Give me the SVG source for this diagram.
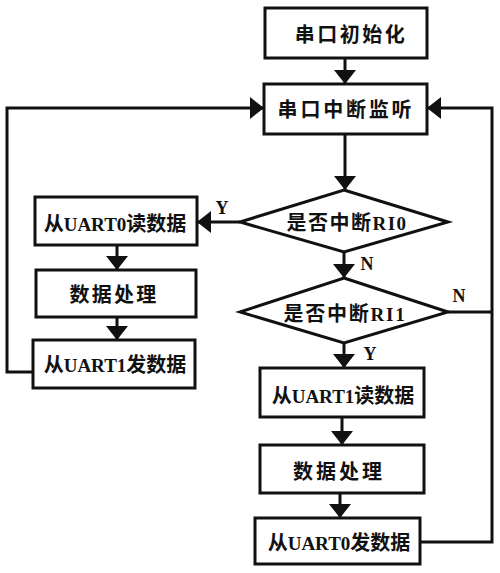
<svg xmlns="http://www.w3.org/2000/svg" width="500" height="573" viewBox="0 0 500 573">
<defs>
<marker id="ah" viewBox="0 0 14 22" refX="13" refY="11" markerWidth="14" markerHeight="22" markerUnits="userSpaceOnUse" orient="auto">
<path d="M0,0 L14,11 L0,22 Z" fill="#111"/>
</marker>
<style>
.box{fill:#fff;stroke:#111;stroke-width:3}
.t{font-family:"Liberation Serif","Noto Sans CJK SC",serif;font-weight:bold;font-size:20px;fill:#111;text-anchor:middle;dominant-baseline:central}
.lat{font-size:19px}
.l{font-family:"Liberation Serif",serif;font-weight:bold;font-size:18px;fill:#111;text-anchor:middle;dominant-baseline:central}
.c{fill:none;stroke:#111;stroke-width:3}
</style>
</defs>
<rect width="500" height="573" fill="#fff"/>
<g id="connectors">
<line class="c" x1="345" y1="58" x2="345" y2="83" marker-end="url(#ah)"/>
<line class="c" x1="345" y1="134" x2="345" y2="189" marker-end="url(#ah)"/>
<line class="c" x1="240" y1="222" x2="198" y2="222" marker-end="url(#ah)"/>
<text class="l" x="222" y="208">Y</text>
<line class="c" x1="117" y1="245" x2="117" y2="269" marker-end="url(#ah)"/>
<line class="c" x1="117" y1="317" x2="117" y2="339" marker-end="url(#ah)"/>
<polyline class="c" points="33,372 7,372 7,108 263,108" marker-end="url(#ah)"/>
<line class="c" x1="344" y1="252" x2="344" y2="277" marker-end="url(#ah)"/>
<text class="l" x="367" y="264">N</text>
<line class="c" x1="344" y1="343" x2="344" y2="367" marker-end="url(#ah)"/>
<text class="l" x="370" y="354">Y</text>
<polyline class="c" points="448,312 492,312"/>
<text class="l" x="459" y="296">N</text>
<line class="c" x1="342" y1="417" x2="342" y2="444" marker-end="url(#ah)"/>
<line class="c" x1="340" y1="493" x2="340" y2="517" marker-end="url(#ah)"/>
<polyline class="c" points="420,542 492,542 492,108 428,108" marker-end="url(#ah)"/>
</g>
<g id="init"><rect class="box" x="265" y="8" width="162" height="50"/><text class="t" x="351" y="35" letter-spacing="2.5">串口初始化</text></g>
<g id="listen"><rect class="box" x="264" y="84" width="163" height="50"/><text class="t" x="346" y="110" letter-spacing="2.8">串口中断监听</text></g>
<g id="ri0"><polygon class="box" points="344,190 448,222 344,252 240,222"/><text class="t" x="347" y="223" letter-spacing="1.5">是否中断<tspan class="lat">RI0</tspan></text></g>
<g id="read0"><rect class="box" x="35" y="197" width="162" height="48"/><text class="t" x="115" y="224">从<tspan class="lat">UART0</tspan>读数据</text></g>
<g id="proc1"><rect class="box" x="36" y="270" width="160" height="47"/><text class="t" x="114" y="295" letter-spacing="2.3">数据处理</text></g>
<g id="send1"><rect class="box" x="33" y="340" width="162" height="48"/><text class="t" x="115" y="365">从<tspan class="lat">UART1</tspan>发数据</text></g>
<g id="ri1"><polygon class="box" points="344,278 448,312 344,343 240,312"/><text class="t" x="345" y="314" letter-spacing="1.8">是否中断<tspan class="lat">RI1</tspan></text></g>
<g id="read1"><rect class="box" x="260" y="368" width="164" height="49"/><text class="t" x="343" y="396">从<tspan class="lat">UART1</tspan>读数据</text></g>
<g id="proc2"><rect class="box" x="260" y="445" width="164" height="48"/><text class="t" x="339" y="472" letter-spacing="3">数据处理</text></g>
<g id="send0"><rect class="box" x="255" y="518" width="165" height="46"/><text class="t" x="339" y="543">从<tspan class="lat">UART0</tspan>发数据</text></g>
</svg>
